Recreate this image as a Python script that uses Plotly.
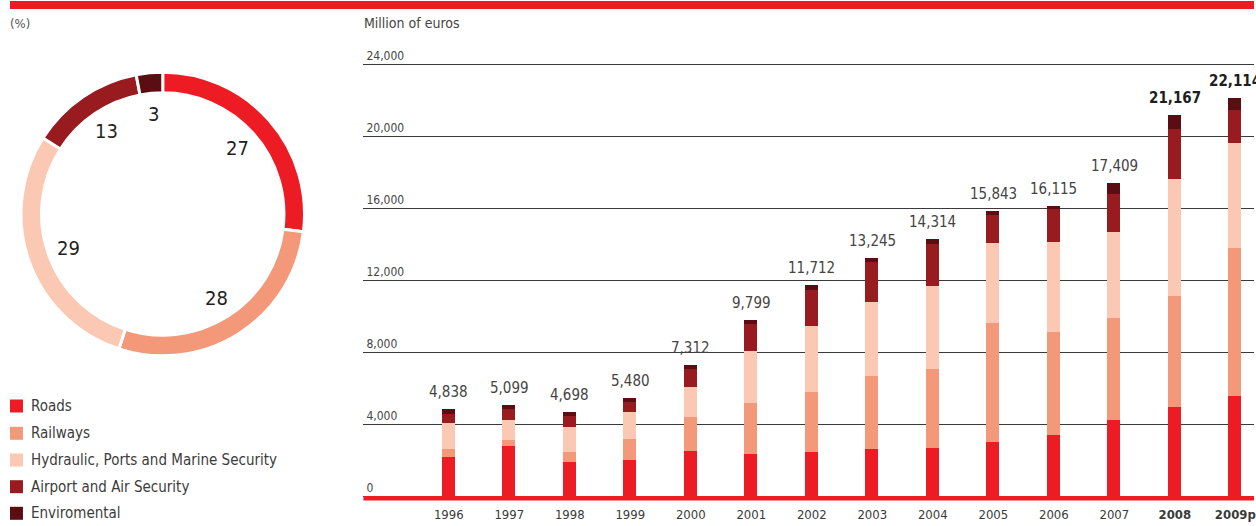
import math
import plotly.graph_objects as go

# ---- data -------------------------------------------------------------
sectors = ["Roads", "Railways", "Hydraulic, Ports and Marine Security",
           "Airport and Air Security", "Enviromental"]
sector_colors = ["#ED1C24", "#F4987A", "#FAC8B3", "#971B1F", "#5B0E12"]

share_pct = [27, 28, 29, 13, 3]

years = ["1996", "1997", "1998", "1999", "2000", "2001", "2002", "2003",
         "2004", "2005", "2006", "2007", "2008", "2009p"]
year_labels = ["1996", "1997", "1998", "1999", "2000", "2001", "2002", "2003",
               "2004", "2005", "2006", "2007", "<b>2008</b>", "<b>2009p</b>"]

roads = [2180, 2790, 1910, 2020, 2520, 2350, 2460, 2630, 2680, 3020, 3410, 4240, 4960, 5580]
railways = [450, 340, 550, 1160, 1890, 2830, 3330, 4050, 4390, 6610, 5720, 5670, 6170, 8210]
hydraulic = [1460, 1110, 1390, 1500, 1660, 2890, 3670, 4110, 4610, 4440, 5000, 4770, 6500, 5840]
airport = [500, 610, 610, 560, 1000, 1500, 2000, 2230, 2340, 1560, 1830, 2110, 2780, 1830]
enviro = [248, 249, 238, 240, 242, 229, 252, 225, 294, 213, 155, 619, 757, 654]

totals = [4838, 5099, 4698, 5480, 7312, 9799, 11712, 13245, 14314, 15843,
          16115, 17409, 21167, 22114]
highlight = [False] * 12 + [True, True]

y_ticks = [0, 4000, 8000, 12000, 16000, 20000, 24000]

# ---- page geometry helpers (pixels -> paper fractions) ----------------
W, H = 1256, 526
FONT = "Liberation Sans Narrow, DejaVu Sans Condensed, Arial Narrow, sans-serif"
TXT = "#3c3c3c"


def fx(px):
    return px / W


def fy(py):
    return 1 - py / H


fig = go.Figure()

# ---- donut --------------------------------------------------------------
pie_x = [21, 305]
pie_y = [72, 356]
fig.add_trace(go.Pie(
    labels=sectors, values=share_pct, hole=0.855, sort=False,
    direction="clockwise", rotation=0,
    marker=dict(colors=sector_colors, line=dict(color="white", width=3)),
    textinfo="none", hoverinfo="label+percent", showlegend=False,
    domain=dict(x=[fx(pie_x[0]), fx(pie_x[1])], y=[fy(pie_y[1]), fy(pie_y[0])]),
))

# percentage labels sit inside the ring, at each slice's middle angle
cx, cy = (pie_x[0] + pie_x[1]) / 2, (pie_y[0] + pie_y[1]) / 2
label_r = 100
cum = 0
for val in share_pct:
    mid = (cum + val / 2) / sum(share_pct) * 2 * math.pi
    cum += val
    lx = cx + label_r * math.sin(mid)
    ly = cy - label_r * math.cos(mid)
    fig.add_annotation(x=fx(lx), y=fy(ly), xref="paper", yref="paper",
                       xanchor="center", yanchor="middle",
                       text=str(val), showarrow=False,
                       font=dict(family=FONT, size=20, color="#231F20"))

# ---- stacked bars -------------------------------------------------------
series = [roads, railways, hydraulic, airport, enviro]
for name, vals, col in zip(sectors, series, sector_colors):
    fig.add_trace(go.Bar(
        x=years, y=vals, name=name, marker=dict(color=col, line=dict(width=0)),
        width=0.2145, showlegend=False, xaxis="x", yaxis="y",
    ))

# totals above each stack (x given as category index)
for i, (tot, hi) in enumerate(zip(totals, highlight)):
    txt = f"{tot:,}"
    fig.add_annotation(
        x=i, y=tot, xref="x", yref="y", xanchor="center", yanchor="bottom", yshift=6,
        text=f"<b>{txt}</b>" if hi else txt, showarrow=False,
        font=dict(family=FONT, size=15, color="#1E1E1E" if hi else "#444444"),
    )

# ---- legend (drawn as squares + text) -----------------------------------
leg_y = [406, 433.3, 460, 486.7, 513.3]
for name, col, ly in zip(sectors, sector_colors, leg_y):
    fig.add_shape(type="rect", xref="paper", yref="paper",
                  x0=fx(10), x1=fx(23), y0=fy(ly + 6.5), y1=fy(ly - 6.5),
                  fillcolor=col, line=dict(width=0))
    fig.add_annotation(x=fx(29), y=fy(ly), xref="paper", yref="paper",
                       xanchor="left", yanchor="middle", text=name, showarrow=False,
                       font=dict(family=FONT, size=15, color=TXT))

# ---- frame decorations ---------------------------------------------------
fig.add_shape(type="rect", xref="paper", yref="paper",
              x0=fx(10), x1=1, y0=fy(9), y1=fy(1),
              fillcolor="#ED1C24", line=dict(width=0))
fig.add_shape(type="rect", xref="paper", yref="paper",
              x0=fx(364), x1=1, y0=fy(500.5), y1=fy(496),
              fillcolor="#ED1C24", line=dict(width=0), layer="above")

fig.add_annotation(x=fx(8), y=fy(24), xref="paper", yref="paper",
                   xanchor="left", yanchor="middle", text="(%)", showarrow=False,
                   font=dict(family=FONT, size=13, color="#555555"))
fig.add_annotation(x=fx(363), y=fy(23), xref="paper", yref="paper",
                   xanchor="left", yanchor="middle", text="Million of euros",
                   showarrow=False, font=dict(family=FONT, size=14, color="#444444"))

# ---- axes ----------------------------------------------------------------
px_per_unit = 0.018
zero_px = 496.3
dom_top, dom_bot = 40, 500

fig.update_layout(
    width=W, height=H, margin=dict(l=0, r=0, t=0, b=0),
    paper_bgcolor="white", plot_bgcolor="white",
    barmode="stack", bargap=0,
    font=dict(family=FONT, color=TXT),
    xaxis=dict(
        domain=[fx(364), 1], type="category",
        range=[(364 - 449.5) / 60.6, (1256 - 449.5) / 60.6],
        tickvals=years, ticktext=year_labels, showgrid=False, zeroline=False,
        showline=False, ticks="", ticklabelstandoff=5,
        tickfont=dict(family=FONT, size=13, color="#3a3a3a"),
    ),
    yaxis=dict(
        domain=[fy(dom_bot), fy(dom_top)],
        range=[(zero_px - dom_bot) / px_per_unit, (zero_px - dom_top) / px_per_unit],
        tickvals=y_ticks, ticktext=[f"{v:,}" for v in y_ticks],
        ticklabelposition="inside top", showgrid=True, gridcolor="#3a3a3a",
        gridwidth=1, zeroline=False, showline=False, ticks="",
        tickfont=dict(family=FONT, size=12, color="#444444"),
    ),
)

fig.write_html("out.html")
